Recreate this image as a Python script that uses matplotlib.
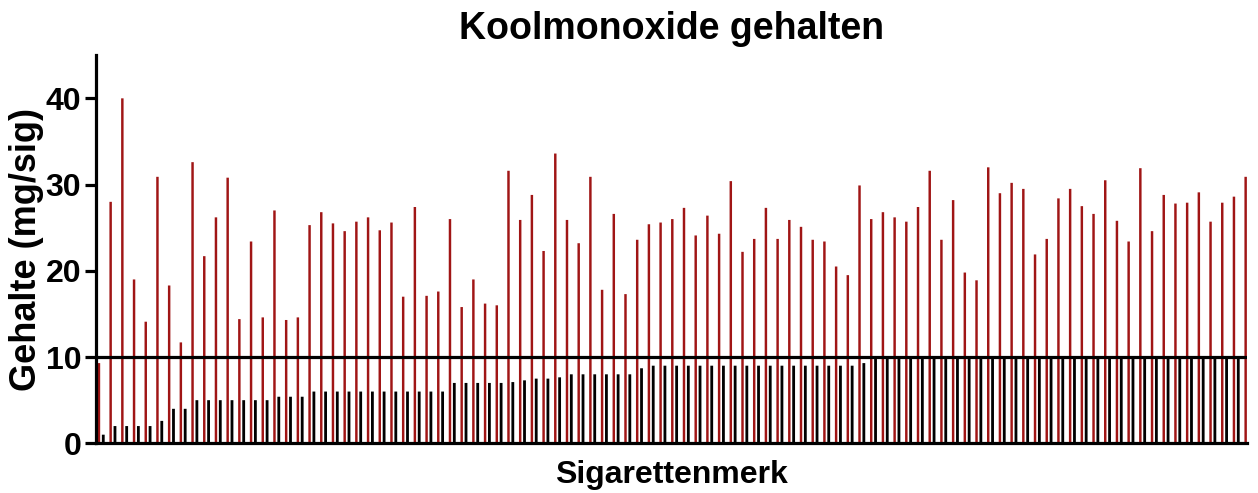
import matplotlib
matplotlib.use("Agg")
import matplotlib.pyplot as plt
import numpy as np

# CO content per brand (red) in chart order
co = [9.3, 28.0, 40.0, 19.0, 14.1, 30.9, 18.3, 11.7, 32.6, 21.7, 26.2, 30.8, 14.4, 23.4, 14.6, 27.0,
      14.3, 14.6, 25.3, 26.8, 25.5, 24.6, 25.7, 26.2, 24.7, 25.6, 17.0, 27.4, 17.1, 17.6, 26.0, 15.8,
      19.0, 16.2, 16.0, 31.6, 25.9, 28.8, 22.3, 33.6, 25.9, 23.2, 30.9, 17.8, 26.6, 17.3, 23.6, 25.4,
      25.6, 26.0, 27.3, 24.1, 26.4, 24.3, 30.4, 22.2, 23.7, 27.3, 23.7, 25.9, 25.1, 23.6, 23.4, 20.5,
      19.5, 29.9, 26.0, 26.8, 26.2, 25.7, 27.4, 31.6, 23.6, 28.2, 19.8, 18.9, 32.0, 29.0, 30.2, 29.5,
      21.9, 23.7, 28.4, 29.5, 27.5, 26.6, 30.5, 25.8, 23.4, 31.9, 24.6, 28.8, 27.8, 27.9, 29.1, 25.7,
      27.9, 28.6, 30.9]

# second series (black), sorted ascending
black = ([1.0] + [2.0] * 4 + [2.6] + [4.0] * 2 + [5.0] * 7 + [5.4] * 3 + [6.0] * 12 +
         [7.0] * 5 + [7.1, 7.3, 7.5, 7.5, 7.65] + [8.0] * 6 + [8.7] + [9.0] * 18 + [9.3] +
         [10.0] * 32)

limit = 10
yticks = [0, 10, 20, 30, 40]

plt.rcParams['font.family'] = ['Liberation Sans', 'DejaVu Sans']
plt.rcParams['font.weight'] = 'bold'

fig = plt.figure(figsize=(12.58, 4.93), dpi=100)
ax = fig.add_axes([0.0767, 0.1008, 0.9146, 0.7872])

x_red = np.arange(len(co))
x_blk = np.arange(len(black)) + 0.37

ax.bar(x_red, co, width=0.21, color="#a01515", linewidth=0, zorder=2, snap=False)
ax.bar(x_blk, black, width=0.24, color="black", linewidth=0, zorder=3, snap=False)
ax.axhline(limit, color="black", linewidth=2.3, zorder=4)

ax.set_xlim(-0.21, 98.12)
ax.set_ylim(0, 45)
ax.set_yticks(yticks)
ax.set_xticks([])

for s in ("top", "right"):
    ax.spines[s].set_visible(False)
for s in ("left", "bottom"):
    ax.spines[s].set_linewidth(2.3)
ax.spines["bottom"].set_zorder(5)

ax.tick_params(axis="y", length=8, width=2.3, labelsize=23, pad=3)
for lab in ax.get_yticklabels():
    lab.set_fontweight("bold")

ax.set_title("Koolmonoxide gehalten", fontsize=27, fontweight="bold", pad=12)
ax.set_xlabel("Sigarettenmerk", fontsize=23, fontweight="bold", labelpad=12)
ax.set_ylabel("Gehalte (mg/sig)", fontsize=26, fontweight="bold", labelpad=1)

fig.savefig("out.png", dpi=100)
